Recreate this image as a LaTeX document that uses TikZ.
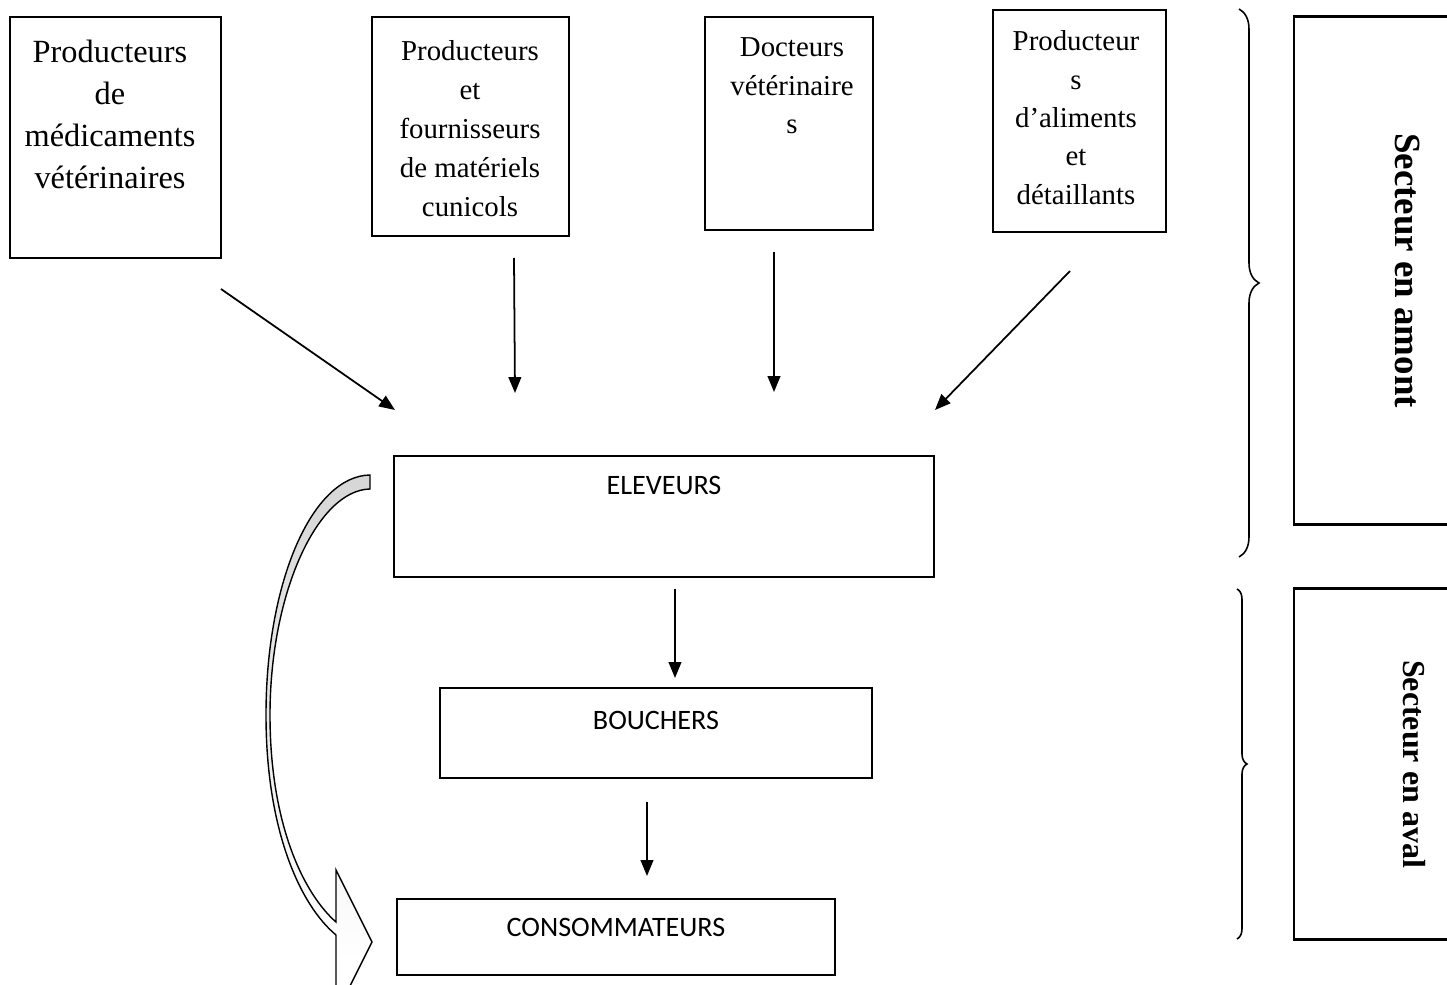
\documentclass[tikz,border=0pt]{standalone}
\usepackage{fontspec}
\setmainfont{Liberation Serif}
\newfontfamily\calibri{Carlito}
\usepackage{tikz}
\usetikzlibrary{arrows.meta,calc,decorations.pathreplacing}
\definecolor{arrowgray}{HTML}{C0C0C0}
\pgfdeclareverticalshading{arrowfade}{100bp}{color(0bp)=(white); color(30bp)=(white); color(100bp)=(arrowgray)}

\begin{document}
\begin{tikzpicture}[x=0.01cm,y=-0.01cm,
    actor/.style={draw,line width=0.6pt,inner sep=0pt},
    actortext/.style={anchor=north,align=center,inner sep=0pt},
    chainbox/.style={draw,line width=0.6pt,inner sep=0pt,anchor=base,font=\calibri\fontsize{8}{10}\selectfont},
    sectorbox/.style={draw,line width=0.8pt,rotate=-90,inner sep=0pt},
    flow/.style={line width=0.5pt,-{Triangle[length=4.5pt,width=3.6pt]}},
    sectorbrace/.style={decorate,line width=0.45pt}]
    \clip (0,0) rectangle (1447,985);

    % fournisseurs en amont
    \node[actor,minimum width=2.11cm,minimum height=2.41cm] (med) at (115.5,137.5) {};
    \node[actortext,font=\fontsize{9.2}{12}\selectfont] (medtxt) at (110,39) {Producteurs\\de\\médicaments\\vétérinaires};
    \node[actor,minimum width=1.97cm,minimum height=2.19cm] (mat) at (470.5,126.5) {};
    \node[actortext,font=\fontsize{8.2}{11.1}\selectfont] (mattxt) at (470,40) {Producteurs\\et\\fournisseurs\\de matériels\\cunicols};
    \node[actor,minimum width=1.68cm,minimum height=2.13cm] (vet) at (789,123.5) {};
    \node[actortext,font=\fontsize{8.2}{11}\selectfont] (vettxt) at (792,37) {Docteurs\\vétérinaire\\s};
    \node[actor,minimum width=1.73cm,minimum height=2.22cm] (alim) at (1079.5,121) {};
    \node[actortext,font=\fontsize{8.2}{10.9}\selectfont] (alimtxt) at (1076,30) {Producteur\\s\\d’aliments\\et\\détaillants};

    % filiere
    \node[chainbox,minimum width=5.40cm,text height=0.39cm,text depth=0.82cm] (eleveurs) at (664,495) {ELEVEURS};
    \node[chainbox,minimum width=4.32cm,text height=0.42cm,text depth=0.48cm] (bouchers) at (656,730) {BOUCHERS};
    \node[chainbox,minimum width=4.38cm,text height=0.38cm,text depth=0.38cm] (conso) at (616,937) {CONSOMMATEURS};

    % fleches
    \coordinate (medout) at (221,289);  \coordinate (medin) at (395,410);
    \coordinate (matout) at (514,258);  \coordinate (matin) at (515,393);
    \coordinate (vetout) at (774,252);  \coordinate (vetin) at (774,392);
    \coordinate (alimout) at (1070,271); \coordinate (alimin) at (935,410);
    \coordinate (elevout) at (675,589); \coordinate (bouchin) at (675,678);
    \coordinate (bouchout) at (647,802); \coordinate (consoin) at (647,876);
    \draw[flow] (medout) -- (medin);
    \draw[flow] (matout) -- (matin);
    \draw[flow] (vetout) -- (vetin);
    \draw[flow] (alimout) -- (alimin);
    \draw[flow] (elevout) -- (bouchin);
    \draw[flow] (bouchout) -- (consoin);

    % vente directe
    \shadedraw[line width=0.4pt,shading=arrowfade]
        (370,475) .. controls (312,476) and (266,582) .. (266,715)
        .. controls (266,830) and (300,905) .. (336,935)
        -- (336,1014) -- (372,942) -- (336,870) -- (336,922)
        .. controls (304,894) and (270,825) .. (270,715)
        .. controls (270,592) and (318,490) .. (370,489) -- cycle;

    % secteurs
    \draw[sectorbrace,decoration={brace,amplitude=0.2cm}] (1239,9) -- (1239,557);
    \draw[sectorbrace,decoration={brace,amplitude=0.1cm}] (1237,589) -- (1237,939);
    \node[sectorbox,minimum width=5.07cm,minimum height=2.26cm,font=\bfseries\fontsize{10.5}{12}\selectfont] (amont) at (1407,270.5) {Secteur en amont};
    \node[sectorbox,minimum width=3.50cm,minimum height=2.40cm,font=\bfseries\fontsize{9.1}{11}\selectfont] (aval) at (1414,764) {Secteur en aval};
\end{tikzpicture}
\end{document}
